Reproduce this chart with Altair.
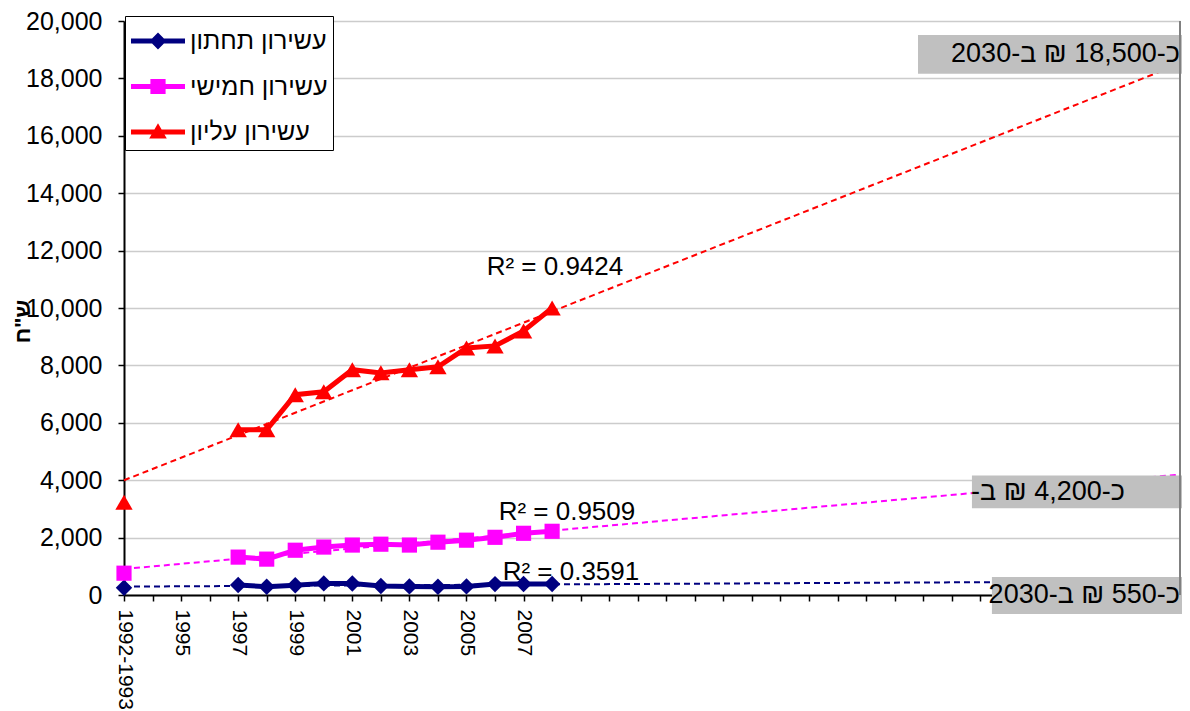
import altair as alt
import pandas as pd

FONT = "Liberation Sans, Arial, DejaVu Sans"

# ---- data ----
years = [1993, 1997, 1998, 1999, 2000, 2001, 2002, 2003, 2004, 2005, 2006, 2007, 2008]
series_names = ["עשירון תחתון", "עשירון חמישי", "עשירון עליון"]
bottom_decile = [250, 350, 290, 340, 405, 400, 315, 300, 290, 300, 380, 385, 385]
fifth_decile = [760, 1320, 1250, 1560, 1670, 1740, 1770, 1740, 1840, 1910, 2010, 2150, 2220]
top_decile = [3230, 5760, 5760, 6980, 7080, 7850, 7740, 7850, 7950, 8610, 8680, 9200, 10000]
colors = ["#000080", "#FF00FF", "#FF0000"]
markers = ["diamond", "square", "triangle-up"]
marker_sizes = [270, 230, 300]

trend_extent = [1993, 2030]
x_tick_values = list(range(1993, 2031))
first_label = "1992-1993"
last_labelled_year = 2007
y_ticks = list(range(0, 20001, 2000))
y_title = 'ש"ח'

r2_texts = ["R² = 0.9424", "R² = 0.9509", "R² = 0.3591"]
r2_x = [2008.1, 2008.52, 2008.66]
r2_y = [11420, 2880, 800]

note_texts = ["כ-18,500 ₪ ב-2030", "כ-4,200 ₪ ב-\u200f", "כ-550 ₪ ב-2030"]
note_box_x = [2020.82, 2022.71, 2023.41]
note_box_x2 = [2030.07, 2030.1, 2030.07]
note_box_y = [18160, 3021, -660]
note_box_y2 = [19514, 4167, 625]
note_text_x = [2030.0, 2028.07, 2030.0]
note_text_y = [18840, 3594, -17]

# legend symbol paths (line + marker)
legend_paths = [
    "M-1.35,-0.125H1.35V0.125H-1.35Z M0,-0.42L0.42,0L0,0.42L-0.42,0Z",
    "M-1.35,-0.125H1.35V0.125H-1.35Z M-0.38,-0.38H0.38V0.38H-0.38Z",
    "M-1.35,-0.125H1.35V0.125H-1.35Z M0,-0.44L0.44,0.32H-0.44Z",
]

rows = []
for name, vals in zip(series_names, [bottom_decile, fifth_decile, top_decile]):
    for yr, v in zip(years, vals):
        rows.append({"year": yr, "value": v, "series": name})
df = pd.DataFrame(rows)

r2_df = pd.DataFrame({"text": r2_texts, "x": r2_x, "y": r2_y})
notes_df = pd.DataFrame({
    "text": note_texts, "bx": note_box_x, "bx2": note_box_x2,
    "by": note_box_y, "by2": note_box_y2, "tx": note_text_x, "ty": note_text_y,
})
border_df = pd.DataFrame({"x": [trend_extent[1]]})
legend_df = pd.DataFrame({"series": series_names, "year": [1993] * 3, "value": [0] * 3})

# ---- scales / axes ----
xscale = alt.Scale(domain=trend_extent, nice=False, zero=False)
yscale = alt.Scale(domain=[0, 20000], nice=False)
cscale = alt.Scale(domain=series_names, range=colors)

label_expr = (
    f"datum.value == {x_tick_values[0]} ? '{first_label}' : "
    f"((datum.value % 2 == 1 && datum.value <= {last_labelled_year}) ? toString(datum.value) : '')"
)
xaxis = alt.Axis(
    values=x_tick_values, labelExpr=label_expr, labelAngle=90, labelAlign="left",
    labelBaseline="middle", labelOverlap=False, labelFlush=False, labelPadding=8,
    tickSize=6, tickColor="black", tickWidth=1.5, domainColor="black", domainWidth=2,
    grid=False, title=None, labelFont=FONT, labelFontSize=21, labelColor="black",
)
yaxis = alt.Axis(
    values=y_ticks, format=",d", labelFont=FONT, labelFontSize=25, labelColor="black",
    labelPadding=16, tickSize=6, tickColor="black", tickWidth=1.5, domainColor="black",
    domainWidth=2, grid=True, gridColor="#cccccc", gridWidth=1.5,
    title=y_title, titleFont=FONT, titleFontSize=22, titleFontWeight="bold",
    titleColor="black", titleX=-102, titleY=300, titleAlign="center", titleBaseline="middle",
    titleAngle=270,
)


def X(field):
    return alt.X(f"{field}:Q", scale=xscale, axis=xaxis)


def Y(field):
    return alt.Y(f"{field}:Q", scale=yscale, axis=yaxis)


base = alt.Chart(df)

trend_layers, line_layers, point_layers = [], [], []
for name, col, shp, sz in zip(series_names, colors, markers, marker_sizes):
    sub = base.transform_filter(alt.datum.series == name)
    trend_layers.append(
        sub.transform_regression("year", "value", extent=trend_extent)
        .mark_line(strokeDash=[6, 4], strokeWidth=2, color=col)
        .encode(x=X("year"), y=Y("value"))
    )
    line_layers.append(
        sub.transform_filter("datum.year >= 1997")
        .mark_line(strokeWidth=5, color=col)
        .encode(x=X("year"), y=Y("value"))
    )
    point_layers.append(
        sub.mark_point(shape=shp, filled=True, size=sz, color=col, opacity=1)
        .encode(x=X("year"), y=Y("value"))
    )

leg = alt.Legend(
    title=None, orient="none", legendX=1, legendY=-5, direction="vertical",
    padding=5, symbolOffset=8, labelOffset=12, symbolSize=1600, symbolStrokeWidth=0,
    symbolOpacity=1, labelFont=FONT, labelFontSize=25, labelColor="black",
    rowPadding=12.5, strokeColor="black", fillColor="white", labelLimit=0,
)
legend_layer = alt.Chart(legend_df).mark_point(filled=True, opacity=0).encode(
    x=X("year"), y=Y("value"),
    color=alt.Color("series:N", scale=cscale, legend=leg),
    shape=alt.Shape("series:N", scale=alt.Scale(domain=series_names, range=legend_paths), legend=leg),
)

r2 = alt.Chart(r2_df).mark_text(font=FONT, fontSize=26, color="black").encode(
    x=X("x"), y=Y("y"), text="text:N"
)

boxes = alt.Chart(notes_df).mark_rect(color="#C0C0C0").encode(
    x=X("bx"), x2="bx2:Q", y=Y("by"), y2="by2:Q"
)
box_text = alt.Chart(notes_df).mark_text(
    font=FONT, fontSize=27, color="black", align="right", baseline="middle"
).encode(x=X("tx"), y=Y("ty"), text="text:N")

border = alt.Chart(border_df).mark_rule(color="#808080", strokeWidth=2).encode(x=X("x"))

chart = alt.layer(
    *trend_layers, *line_layers, *point_layers, boxes, box_text, r2, border, legend_layer
).properties(
    width=1056, height=574,
    autosize=alt.AutoSizeParams(type="none"),
    padding={"left": 116, "top": 13, "right": 2, "bottom": 116},
    background="white",
).configure_view(stroke=None)

chart.save("out.html", embed_options={"renderer": "svg", "actions": False})
